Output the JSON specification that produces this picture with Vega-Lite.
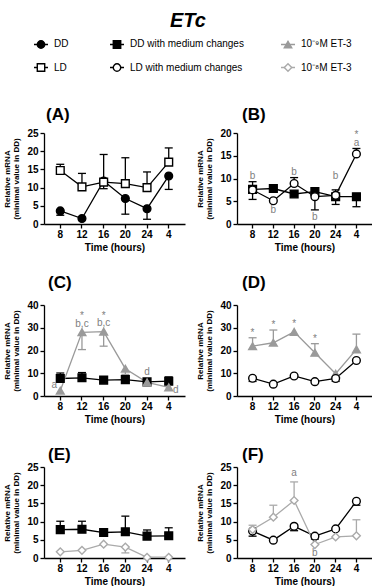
{
"$schema": "https://vega.github.io/schema/vega-lite/v6.json",
"padding": {"left": 3, "top": 11, "right": 0, "bottom": 0},
"title": {"text": "ETc", "fontSize": 20, "fontStyle": "italic", "fontWeight": "bold", "anchor": "middle", "offset": -3, "color": "black"},
"spacing": 22,
"vconcat": [
 {
  "width": 328, "height": 56,
  "data": {"name": "leg"},
  "encoding": {
   "x": {"field": "col", "type": "quantitative", "scale": {"domain": [1, 2, 3], "range": [-3, 73, 244]}, "axis": null},
   "y": {"field": "row", "type": "ordinal", "scale": {"type": "point", "padding": 0.717}, "axis": null}
  },
  "layer": [
   {"mark": {"type": "tick", "orient": "horizontal", "size": 14, "thickness": 1.5},
    "encoding": {"color": {"field": "series", "type": "nominal", "legend": null, "scale": {"domain": ["DD","LD","DDm","LDm","E9","E8"], "range": ["black","black","black","black","#9a9a9a","#aaaaaa"]}}}},
   {"mark": {"type": "point", "size": 55, "strokeWidth": 1.4, "opacity": 1},
    "encoding": {
     "shape": {"field": "series", "type": "nominal", "legend": null, "scale": {"domain": ["DD","LD","DDm","LDm","E9","E8"], "range": ["circle","square","square","circle","triangle-up","diamond"]}},
     "fill": {"field": "series", "type": "nominal", "legend": null, "scale": {"domain": ["DD","LD","DDm","LDm","E9","E8"], "range": ["black","white","black","white","#9a9a9a","white"]}},
     "stroke": {"field": "series", "type": "nominal", "legend": null, "scale": {"domain": ["DD","LD","DDm","LDm","E9","E8"], "range": ["black","black","black","black","#9a9a9a","#aaaaaa"]}}}},
   {"mark": {"type": "text", "align": "left", "baseline": "middle", "dx": 13, "fontSize": 10, "color": "black"},
    "encoding": {"text": {"field": "label"}}}
  ]
 },
 {"bounds": "flush", "spacing": 52, "hconcat": [
  {
   "width": 141, "height": 91,
   "title": {"text": "(A)", "frame": "group", "anchor": "start", "dx": 2, "offset": 4, "fontSize": 17, "fontWeight": "bold", "color": "black"},
   "data": {"name": "pts"},
   "transform": [{"filter": "datum.panel === 'A'"}],
   "encoding": {
    "x": {"field": "t", "type": "ordinal", "sort": ["8","12","16","20","24","4"], "scale": {"domain": ["8","12","16","20","24","4"], "padding": 0.5}, "axis": {"title": "Time (hours)", "labelAngle": 0}},
    "y": {"field": "y", "type": "quantitative", "scale": {"domain": [0, 25], "nice": false}, "axis": {"values": [0,5,10,15,20,25], "title": ["Relative mRNA", "(minimal value in DD)"]}}
   },
   "layer": [
    {"mark": {"type": "line", "strokeWidth": 1.3}, "encoding": {"detail": {"field": "series"}, "stroke": {"field": "series", "type": "nominal", "legend": null, "scale": {"domain": ["DD","LD","DDm","LDm","E9","E8"], "range": ["black","black","black","black","#9a9a9a","#aaaaaa"]}}}},
    {"transform": [{"filter": "isValid(datum.e)"}], "mark": {"type": "rule", "strokeWidth": 1.3}, "encoding": {"y2": {"field": "e"}, "stroke": {"field": "series", "type": "nominal", "legend": null, "scale": {"domain": ["DD","LD","DDm","LDm","E9","E8"], "range": ["black","black","black","black","#9a9a9a","#aaaaaa"]}}}},
    {"transform": [{"filter": "isValid(datum.e)"}], "mark": {"type": "tick", "orient": "horizontal", "size": 8, "thickness": 1.3, "opacity": 1}, "encoding": {"y": {"field": "e", "type": "quantitative"}, "color": {"field": "series", "type": "nominal", "legend": null, "scale": {"domain": ["DD","LD","DDm","LDm","E9","E8"], "range": ["black","black","black","black","#9a9a9a","#aaaaaa"]}}}},
    {"mark": {"type": "point", "size": 60, "strokeWidth": 1.4, "opacity": 1}, "encoding": {
     "shape": {"field": "series", "type": "nominal", "legend": null, "scale": {"domain": ["DD","LD","DDm","LDm","E9","E8"], "range": ["circle","square","square","circle","triangle-up","diamond"]}},
     "fill": {"field": "series", "type": "nominal", "legend": null, "scale": {"domain": ["DD","LD","DDm","LDm","E9","E8"], "range": ["black","white","black","white","#9a9a9a","white"]}},
     "stroke": {"field": "series", "type": "nominal", "legend": null, "scale": {"domain": ["DD","LD","DDm","LDm","E9","E8"], "range": ["black","black","black","black","#9a9a9a","#aaaaaa"]}}}}
   ]
  },
  {
   "width": 135, "height": 91,
   "title": {"text": "(B)", "frame": "group", "anchor": "start", "dx": 5, "offset": 4, "fontSize": 17, "fontWeight": "bold", "color": "black"},
   "data": {"name": "pts"},
   "transform": [{"filter": "datum.panel === 'B'"}],
   "encoding": {
    "x": {"field": "t", "type": "ordinal", "sort": ["8","12","16","20","24","4"], "scale": {"domain": ["8","12","16","20","24","4"], "padding": 0.5}, "axis": {"title": "Time (hours)", "labelAngle": 0}},
    "y": {"field": "y", "type": "quantitative", "scale": {"domain": [0, 20], "nice": false}, "axis": {"values": [0,5,10,15,20], "title": ["Relative mRNA", "(minimal value in DD)"]}}
   },
   "layer": [
    {"mark": {"type": "line", "strokeWidth": 1.3}, "encoding": {"detail": {"field": "series"}, "stroke": {"field": "series", "type": "nominal", "legend": null, "scale": {"domain": ["DD","LD","DDm","LDm","E9","E8"], "range": ["black","black","black","black","#9a9a9a","#aaaaaa"]}}}},
    {"transform": [{"filter": "isValid(datum.e)"}], "mark": {"type": "rule", "strokeWidth": 1.3}, "encoding": {"y2": {"field": "e"}, "stroke": {"field": "series", "type": "nominal", "legend": null, "scale": {"domain": ["DD","LD","DDm","LDm","E9","E8"], "range": ["black","black","black","black","#9a9a9a","#aaaaaa"]}}}},
    {"transform": [{"filter": "isValid(datum.e)"}], "mark": {"type": "tick", "orient": "horizontal", "size": 8, "thickness": 1.3, "opacity": 1}, "encoding": {"y": {"field": "e", "type": "quantitative"}, "color": {"field": "series", "type": "nominal", "legend": null, "scale": {"domain": ["DD","LD","DDm","LDm","E9","E8"], "range": ["black","black","black","black","#9a9a9a","#aaaaaa"]}}}},
    {"mark": {"type": "point", "size": 60, "strokeWidth": 1.4, "opacity": 1}, "encoding": {
     "shape": {"field": "series", "type": "nominal", "legend": null, "scale": {"domain": ["DD","LD","DDm","LDm","E9","E8"], "range": ["circle","square","square","circle","triangle-up","diamond"]}},
     "fill": {"field": "series", "type": "nominal", "legend": null, "scale": {"domain": ["DD","LD","DDm","LDm","E9","E8"], "range": ["black","white","black","white","#9a9a9a","white"]}},
     "stroke": {"field": "series", "type": "nominal", "legend": null, "scale": {"domain": ["DD","LD","DDm","LDm","E9","E8"], "range": ["black","black","black","black","#9a9a9a","#aaaaaa"]}}}},
    {"data": {"name": "ann"}, "transform": [{"filter": "datum.panel === 'B'"}], "mark": {"type": "text", "fontSize": 10, "color": "#808080", "baseline": "middle"}, "encoding": {"y": {"field": "ly", "type": "quantitative"}, "text": {"field": "lab"}}}
   ]
  }
 ]},
 {"bounds": "flush", "spacing": 52, "hconcat": [
  {
   "width": 141, "height": 91,
   "title": {"text": "(C)", "frame": "group", "anchor": "start", "dx": 4, "offset": 8, "fontSize": 17, "fontWeight": "bold", "color": "black"},
   "data": {"name": "pts"},
   "transform": [{"filter": "datum.panel === 'C'"}],
   "encoding": {
    "x": {"field": "t", "type": "ordinal", "sort": ["8","12","16","20","24","4"], "scale": {"domain": ["8","12","16","20","24","4"], "padding": 0.5}, "axis": {"title": "Time (hours)", "labelAngle": 0}},
    "y": {"field": "y", "type": "quantitative", "scale": {"domain": [0, 40], "nice": false}, "axis": {"values": [0,10,20,30,40], "title": ["Relative mRNA", "(minimal value in DD)"]}}
   },
   "layer": [
    {"mark": {"type": "line", "strokeWidth": 1.3}, "encoding": {"detail": {"field": "series"}, "stroke": {"field": "series", "type": "nominal", "legend": null, "scale": {"domain": ["DD","LD","DDm","LDm","E9","E8"], "range": ["black","black","black","black","#9a9a9a","#aaaaaa"]}}}},
    {"transform": [{"filter": "isValid(datum.e)"}], "mark": {"type": "rule", "strokeWidth": 1.3}, "encoding": {"y2": {"field": "e"}, "stroke": {"field": "series", "type": "nominal", "legend": null, "scale": {"domain": ["DD","LD","DDm","LDm","E9","E8"], "range": ["black","black","black","black","#9a9a9a","#aaaaaa"]}}}},
    {"transform": [{"filter": "isValid(datum.e)"}], "mark": {"type": "tick", "orient": "horizontal", "size": 8, "thickness": 1.3, "opacity": 1}, "encoding": {"y": {"field": "e", "type": "quantitative"}, "color": {"field": "series", "type": "nominal", "legend": null, "scale": {"domain": ["DD","LD","DDm","LDm","E9","E8"], "range": ["black","black","black","black","#9a9a9a","#aaaaaa"]}}}},
    {"mark": {"type": "point", "size": 60, "strokeWidth": 1.4, "opacity": 1}, "encoding": {
     "shape": {"field": "series", "type": "nominal", "legend": null, "scale": {"domain": ["DD","LD","DDm","LDm","E9","E8"], "range": ["circle","square","square","circle","triangle-up","diamond"]}},
     "fill": {"field": "series", "type": "nominal", "legend": null, "scale": {"domain": ["DD","LD","DDm","LDm","E9","E8"], "range": ["black","white","black","white","#9a9a9a","white"]}},
     "stroke": {"field": "series", "type": "nominal", "legend": null, "scale": {"domain": ["DD","LD","DDm","LDm","E9","E8"], "range": ["black","black","black","black","#9a9a9a","#aaaaaa"]}}}},
    {"data": {"name": "ann"}, "transform": [{"filter": "datum.panel === 'C' && datum.side === 'c'"}], "mark": {"type": "text", "fontSize": 10, "color": "#808080", "baseline": "middle"}, "encoding": {"y": {"field": "ly", "type": "quantitative"}, "text": {"field": "lab"}}},
    {"data": {"name": "ann"}, "transform": [{"filter": "datum.panel === 'C' && datum.side === 'l'"}], "mark": {"type": "text", "fontSize": 10, "color": "#808080", "baseline": "middle", "dx": -6}, "encoding": {"y": {"field": "ly", "type": "quantitative"}, "text": {"field": "lab"}}},
    {"data": {"name": "ann"}, "transform": [{"filter": "datum.panel === 'C' && datum.side === 'r'"}], "mark": {"type": "text", "fontSize": 10, "color": "#808080", "baseline": "middle", "dx": 7}, "encoding": {"y": {"field": "ly", "type": "quantitative"}, "text": {"field": "lab"}}}
   ]
  },
  {
   "width": 135, "height": 91,
   "title": {"text": "(D)", "frame": "group", "anchor": "start", "dx": 5, "offset": 8, "fontSize": 17, "fontWeight": "bold", "color": "black"},
   "data": {"name": "pts"},
   "transform": [{"filter": "datum.panel === 'D'"}],
   "encoding": {
    "x": {"field": "t", "type": "ordinal", "sort": ["8","12","16","20","24","4"], "scale": {"domain": ["8","12","16","20","24","4"], "padding": 0.5}, "axis": {"title": "Time (hours)", "labelAngle": 0}},
    "y": {"field": "y", "type": "quantitative", "scale": {"domain": [0, 40], "nice": false}, "axis": {"values": [0,10,20,30,40], "title": ["Relative mRNA", "(minimal value in DD)"]}}
   },
   "layer": [
    {"mark": {"type": "line", "strokeWidth": 1.3}, "encoding": {"detail": {"field": "series"}, "stroke": {"field": "series", "type": "nominal", "legend": null, "scale": {"domain": ["DD","LD","DDm","LDm","E9","E8"], "range": ["black","black","black","black","#9a9a9a","#aaaaaa"]}}}},
    {"transform": [{"filter": "isValid(datum.e)"}], "mark": {"type": "rule", "strokeWidth": 1.3}, "encoding": {"y2": {"field": "e"}, "stroke": {"field": "series", "type": "nominal", "legend": null, "scale": {"domain": ["DD","LD","DDm","LDm","E9","E8"], "range": ["black","black","black","black","#9a9a9a","#aaaaaa"]}}}},
    {"transform": [{"filter": "isValid(datum.e)"}], "mark": {"type": "tick", "orient": "horizontal", "size": 8, "thickness": 1.3, "opacity": 1}, "encoding": {"y": {"field": "e", "type": "quantitative"}, "color": {"field": "series", "type": "nominal", "legend": null, "scale": {"domain": ["DD","LD","DDm","LDm","E9","E8"], "range": ["black","black","black","black","#9a9a9a","#aaaaaa"]}}}},
    {"mark": {"type": "point", "size": 60, "strokeWidth": 1.4, "opacity": 1}, "encoding": {
     "shape": {"field": "series", "type": "nominal", "legend": null, "scale": {"domain": ["DD","LD","DDm","LDm","E9","E8"], "range": ["circle","square","square","circle","triangle-up","diamond"]}},
     "fill": {"field": "series", "type": "nominal", "legend": null, "scale": {"domain": ["DD","LD","DDm","LDm","E9","E8"], "range": ["black","white","black","white","#9a9a9a","white"]}},
     "stroke": {"field": "series", "type": "nominal", "legend": null, "scale": {"domain": ["DD","LD","DDm","LDm","E9","E8"], "range": ["black","black","black","black","#9a9a9a","#aaaaaa"]}}}},
    {"data": {"name": "ann"}, "transform": [{"filter": "datum.panel === 'D'"}], "mark": {"type": "text", "fontSize": 10, "color": "#808080", "baseline": "middle"}, "encoding": {"y": {"field": "ly", "type": "quantitative"}, "text": {"field": "lab"}}}
   ]
  }
 ]},
 {"bounds": "flush", "spacing": 52, "hconcat": [
  {
   "width": 141, "height": 91,
   "title": {"text": "(E)", "frame": "group", "anchor": "start", "dx": 4, "offset": -2, "fontSize": 17, "fontWeight": "bold", "color": "black"},
   "data": {"name": "pts"},
   "transform": [{"filter": "datum.panel === 'E'"}],
   "encoding": {
    "x": {"field": "t", "type": "ordinal", "sort": ["8","12","16","20","24","4"], "scale": {"domain": ["8","12","16","20","24","4"], "padding": 0.5}, "axis": {"title": "Time (hours)", "labelAngle": 0}},
    "y": {"field": "y", "type": "quantitative", "scale": {"domain": [0, 25], "nice": false}, "axis": {"values": [0,5,10,15,20,25], "title": ["Relative mRNA", "(minimal value in DD)"]}}
   },
   "layer": [
    {"mark": {"type": "line", "strokeWidth": 1.3}, "encoding": {"detail": {"field": "series"}, "stroke": {"field": "series", "type": "nominal", "legend": null, "scale": {"domain": ["DD","LD","DDm","LDm","E9","E8"], "range": ["black","black","black","black","#9a9a9a","#aaaaaa"]}}}},
    {"transform": [{"filter": "isValid(datum.e)"}], "mark": {"type": "rule", "strokeWidth": 1.3}, "encoding": {"y2": {"field": "e"}, "stroke": {"field": "series", "type": "nominal", "legend": null, "scale": {"domain": ["DD","LD","DDm","LDm","E9","E8"], "range": ["black","black","black","black","#9a9a9a","#aaaaaa"]}}}},
    {"transform": [{"filter": "isValid(datum.e)"}], "mark": {"type": "tick", "orient": "horizontal", "size": 8, "thickness": 1.3, "opacity": 1}, "encoding": {"y": {"field": "e", "type": "quantitative"}, "color": {"field": "series", "type": "nominal", "legend": null, "scale": {"domain": ["DD","LD","DDm","LDm","E9","E8"], "range": ["black","black","black","black","#9a9a9a","#aaaaaa"]}}}},
    {"mark": {"type": "point", "size": 60, "strokeWidth": 1.4, "opacity": 1}, "encoding": {
     "shape": {"field": "series", "type": "nominal", "legend": null, "scale": {"domain": ["DD","LD","DDm","LDm","E9","E8"], "range": ["circle","square","square","circle","triangle-up","diamond"]}},
     "fill": {"field": "series", "type": "nominal", "legend": null, "scale": {"domain": ["DD","LD","DDm","LDm","E9","E8"], "range": ["black","white","black","white","#9a9a9a","white"]}},
     "stroke": {"field": "series", "type": "nominal", "legend": null, "scale": {"domain": ["DD","LD","DDm","LDm","E9","E8"], "range": ["black","black","black","black","#9a9a9a","#aaaaaa"]}}}}
   ]
  },
  {
   "width": 135, "height": 91,
   "title": {"text": "(F)", "frame": "group", "anchor": "start", "dx": 5, "offset": -2, "fontSize": 17, "fontWeight": "bold", "color": "black"},
   "data": {"name": "pts"},
   "transform": [{"filter": "datum.panel === 'F'"}],
   "encoding": {
    "x": {"field": "t", "type": "ordinal", "sort": ["8","12","16","20","24","4"], "scale": {"domain": ["8","12","16","20","24","4"], "padding": 0.5}, "axis": {"title": "Time (hours)", "labelAngle": 0}},
    "y": {"field": "y", "type": "quantitative", "scale": {"domain": [0, 25], "nice": false}, "axis": {"values": [0,5,10,15,20,25], "title": ["Relative mRNA", "(minimal value in DD)"]}}
   },
   "layer": [
    {"mark": {"type": "line", "strokeWidth": 1.3}, "encoding": {"detail": {"field": "series"}, "stroke": {"field": "series", "type": "nominal", "legend": null, "scale": {"domain": ["DD","LD","DDm","LDm","E9","E8"], "range": ["black","black","black","black","#9a9a9a","#aaaaaa"]}}}},
    {"transform": [{"filter": "isValid(datum.e)"}], "mark": {"type": "rule", "strokeWidth": 1.3}, "encoding": {"y2": {"field": "e"}, "stroke": {"field": "series", "type": "nominal", "legend": null, "scale": {"domain": ["DD","LD","DDm","LDm","E9","E8"], "range": ["black","black","black","black","#9a9a9a","#aaaaaa"]}}}},
    {"transform": [{"filter": "isValid(datum.e)"}], "mark": {"type": "tick", "orient": "horizontal", "size": 8, "thickness": 1.3, "opacity": 1}, "encoding": {"y": {"field": "e", "type": "quantitative"}, "color": {"field": "series", "type": "nominal", "legend": null, "scale": {"domain": ["DD","LD","DDm","LDm","E9","E8"], "range": ["black","black","black","black","#9a9a9a","#aaaaaa"]}}}},
    {"mark": {"type": "point", "size": 60, "strokeWidth": 1.4, "opacity": 1}, "encoding": {
     "shape": {"field": "series", "type": "nominal", "legend": null, "scale": {"domain": ["DD","LD","DDm","LDm","E9","E8"], "range": ["circle","square","square","circle","triangle-up","diamond"]}},
     "fill": {"field": "series", "type": "nominal", "legend": null, "scale": {"domain": ["DD","LD","DDm","LDm","E9","E8"], "range": ["black","white","black","white","#9a9a9a","white"]}},
     "stroke": {"field": "series", "type": "nominal", "legend": null, "scale": {"domain": ["DD","LD","DDm","LDm","E9","E8"], "range": ["black","black","black","black","#9a9a9a","#aaaaaa"]}}}},
    {"data": {"name": "ann"}, "transform": [{"filter": "datum.panel === 'F'"}], "mark": {"type": "text", "fontSize": 10, "color": "#808080", "baseline": "middle"}, "encoding": {"y": {"field": "ly", "type": "quantitative"}, "text": {"field": "lab"}}}
   ]
  }
 ]}
],
"datasets": {
 "leg": [
  {"series": "DD", "label": "DD", "col": 1, "row": 1},
  {"series": "LD", "label": "LD", "col": 1, "row": 2},
  {"series": "DDm", "label": "DD with medium changes", "col": 2, "row": 1},
  {"series": "LDm", "label": "LD with medium changes", "col": 2, "row": 2},
  {"series": "E9", "label": "10⁻⁹M ET-3", "col": 3, "row": 1},
  {"series": "E8", "label": "10⁻⁸M ET-3", "col": 3, "row": 2}
 ],
 "pts": [
  {"panel": "A", "series": "DD", "t": "8", "y": 3.6, "e": 2.4},
  {"panel": "A", "series": "DD", "t": "12", "y": 1.5},
  {"panel": "A", "series": "DD", "t": "16", "y": 11.8, "e": 9.7},
  {"panel": "A", "series": "DD", "t": "20", "y": 7.0, "e": 2.7},
  {"panel": "A", "series": "DD", "t": "24", "y": 4.2, "e": 1.3},
  {"panel": "A", "series": "DD", "t": "4", "y": 13.2, "e": 9.5},
  {"panel": "A", "series": "LD", "t": "8", "y": 14.7, "e": 16.4},
  {"panel": "A", "series": "LD", "t": "12", "y": 10.2, "e": 13.9},
  {"panel": "A", "series": "LD", "t": "16", "y": 11.5, "e": 19.1},
  {"panel": "A", "series": "LD", "t": "20", "y": 11.1, "e": 18.2},
  {"panel": "A", "series": "LD", "t": "24", "y": 10.0, "e": 14.3},
  {"panel": "A", "series": "LD", "t": "4", "y": 17.0, "e": 20.9},
  {"panel": "B", "series": "DDm", "t": "8", "y": 7.6, "e": 5.4},
  {"panel": "B", "series": "DDm", "t": "12", "y": 7.8},
  {"panel": "B", "series": "DDm", "t": "16", "y": 6.6},
  {"panel": "B", "series": "DDm", "t": "20", "y": 7.1},
  {"panel": "B", "series": "DDm", "t": "24", "y": 6.0, "e": 4.3},
  {"panel": "B", "series": "DDm", "t": "4", "y": 6.0, "e": 3.8},
  {"panel": "B", "series": "LDm", "t": "8", "y": 7.5, "e": 9.3},
  {"panel": "B", "series": "LDm", "t": "12", "y": 5.1},
  {"panel": "B", "series": "LDm", "t": "16", "y": 8.9, "e": 10.2},
  {"panel": "B", "series": "LDm", "t": "20", "y": 6.0, "e": 3.1},
  {"panel": "B", "series": "LDm", "t": "24", "y": 6.3, "e": 7.5},
  {"panel": "B", "series": "LDm", "t": "4", "y": 15.4, "e": 16.6},
  {"panel": "C", "series": "DDm", "t": "8", "y": 7.7, "e": 10.1},
  {"panel": "C", "series": "DDm", "t": "12", "y": 8.0, "e": 10.3},
  {"panel": "C", "series": "DDm", "t": "16", "y": 7.0},
  {"panel": "C", "series": "DDm", "t": "20", "y": 7.2},
  {"panel": "C", "series": "DDm", "t": "24", "y": 6.2},
  {"panel": "C", "series": "DDm", "t": "4", "y": 6.5, "e": 8.4},
  {"panel": "C", "series": "E9", "t": "8", "y": 2.3},
  {"panel": "C", "series": "E9", "t": "12", "y": 28.0, "e": 20.4},
  {"panel": "C", "series": "E9", "t": "16", "y": 28.3, "e": 21.9},
  {"panel": "C", "series": "E9", "t": "20", "y": 12.0, "e": 9.5},
  {"panel": "C", "series": "E9", "t": "24", "y": 6.0},
  {"panel": "C", "series": "E9", "t": "4", "y": 3.8},
  {"panel": "D", "series": "E9", "t": "8", "y": 21.9, "e": 25.6},
  {"panel": "D", "series": "E9", "t": "12", "y": 23.4, "e": 29.0},
  {"panel": "D", "series": "E9", "t": "16", "y": 28.2},
  {"panel": "D", "series": "E9", "t": "20", "y": 19.0, "e": 23.0},
  {"panel": "D", "series": "E9", "t": "24", "y": 9.8},
  {"panel": "D", "series": "E9", "t": "4", "y": 20.5, "e": 27.2},
  {"panel": "D", "series": "LDm", "t": "8", "y": 7.8, "e": 6.4},
  {"panel": "D", "series": "LDm", "t": "12", "y": 5.2},
  {"panel": "D", "series": "LDm", "t": "16", "y": 8.8},
  {"panel": "D", "series": "LDm", "t": "20", "y": 6.3},
  {"panel": "D", "series": "LDm", "t": "24", "y": 7.7, "e": 6.4},
  {"panel": "D", "series": "LDm", "t": "4", "y": 15.6},
  {"panel": "E", "series": "DDm", "t": "8", "y": 7.8, "e": 10.1},
  {"panel": "E", "series": "DDm", "t": "12", "y": 7.9, "e": 10.1},
  {"panel": "E", "series": "DDm", "t": "16", "y": 7.0},
  {"panel": "E", "series": "DDm", "t": "20", "y": 7.2, "e": 11.5},
  {"panel": "E", "series": "DDm", "t": "24", "y": 6.0, "e": 7.7},
  {"panel": "E", "series": "DDm", "t": "4", "y": 6.1, "e": 8.3},
  {"panel": "E", "series": "E8", "t": "8", "y": 1.7},
  {"panel": "E", "series": "E8", "t": "12", "y": 2.1},
  {"panel": "E", "series": "E8", "t": "16", "y": 3.8},
  {"panel": "E", "series": "E8", "t": "20", "y": 3.0, "e": 1.4},
  {"panel": "E", "series": "E8", "t": "24", "y": 0.2},
  {"panel": "E", "series": "E8", "t": "4", "y": 0.2},
  {"panel": "F", "series": "LDm", "t": "8", "y": 7.4, "e": 6.0},
  {"panel": "F", "series": "LDm", "t": "12", "y": 4.9},
  {"panel": "F", "series": "LDm", "t": "16", "y": 8.7, "e": 7.5},
  {"panel": "F", "series": "LDm", "t": "20", "y": 6.0, "e": 5.2},
  {"panel": "F", "series": "LDm", "t": "24", "y": 8.0},
  {"panel": "F", "series": "LDm", "t": "4", "y": 15.6, "e": 14.5},
  {"panel": "F", "series": "E8", "t": "8", "y": 7.8, "e": 9.0},
  {"panel": "F", "series": "E8", "t": "12", "y": 11.2, "e": 14.5},
  {"panel": "F", "series": "E8", "t": "16", "y": 15.8, "e": 20.9},
  {"panel": "F", "series": "E8", "t": "20", "y": 3.7},
  {"panel": "F", "series": "E8", "t": "24", "y": 5.8},
  {"panel": "F", "series": "E8", "t": "4", "y": 6.1, "e": 10.5}
 ],
 "ann": [
  {"panel": "B", "t": "8", "lab": "b", "ly": 10.6},
  {"panel": "B", "t": "12", "lab": "b", "ly": 3.0},
  {"panel": "B", "t": "16", "lab": "b", "ly": 11.4},
  {"panel": "B", "t": "20", "lab": "b", "ly": 1.6},
  {"panel": "B", "t": "24", "lab": "b", "ly": 10.6},
  {"panel": "B", "t": "4", "lab": "a", "ly": 17.9},
  {"panel": "B", "t": "4", "lab": "*", "ly": 19.6},
  {"panel": "C", "t": "8", "lab": "a", "ly": 4.8, "side": "l"},
  {"panel": "C", "t": "12", "lab": "b,c", "ly": 31.6, "side": "c"},
  {"panel": "C", "t": "12", "lab": "*", "ly": 35.2, "side": "c"},
  {"panel": "C", "t": "16", "lab": "b,c", "ly": 31.9, "side": "c"},
  {"panel": "C", "t": "16", "lab": "*", "ly": 35.2, "side": "c"},
  {"panel": "C", "t": "24", "lab": "d", "ly": 10.5, "side": "c"},
  {"panel": "C", "t": "4", "lab": "d", "ly": 2.6, "side": "r"},
  {"panel": "D", "t": "8", "lab": "*", "ly": 27.9},
  {"panel": "D", "t": "12", "lab": "*", "ly": 31.1},
  {"panel": "D", "t": "16", "lab": "*", "ly": 31.6},
  {"panel": "D", "t": "20", "lab": "*", "ly": 24.9},
  {"panel": "F", "t": "16", "lab": "a", "ly": 23.4},
  {"panel": "F", "t": "20", "lab": "b", "ly": 1.4}
 ]
},
"config": {
 "font": "Liberation Sans",
 "view": {"stroke": null},
 "axis": {"grid": false, "domainColor": "black", "domainWidth": 1.3, "tickColor": "black", "tickWidth": 1.3, "tickSize": 4, "labelColor": "black", "labelFontSize": 10, "labelFontWeight": "bold", "labelFont": "Liberation Sans", "titleFont": "Liberation Sans", "titleColor": "black", "titleFontWeight": "bold", "titleFontSize": 10, "labelPadding": 2},
 "axisY": {"titleFontSize": 8, "titleLineHeight": 9, "titlePadding": 6},
 "axisX": {"titlePadding": 3, "labelPadding": 1},
 "point": {"opacity": 1},
 "tick": {"opacity": 1}
}
}
